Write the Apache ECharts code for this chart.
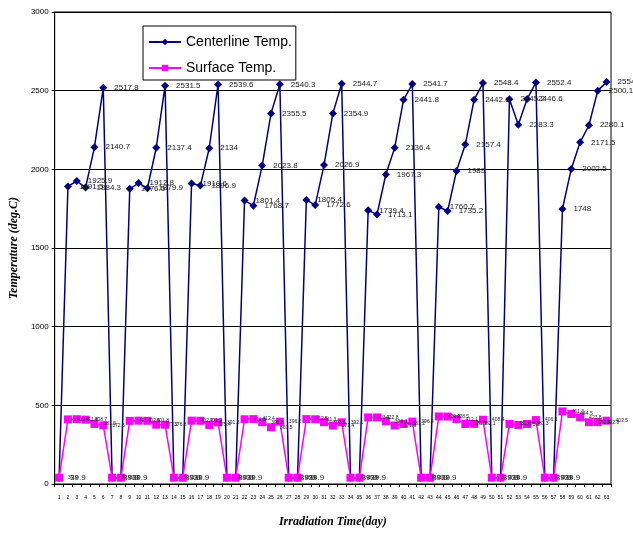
<!DOCTYPE html>
<html>
<head>
<meta charset="utf-8">
<script src="https://cdn.jsdelivr.net/npm/echarts@6/dist/echarts.min.js"></script>
<style>
  html, body { margin: 0; padding: 0; background: #fff; }
  #tempChart { width: 633px; height: 533px; }
</style>
</head>
<body>
<div id="tempChart"></div>
<script>
  // irradiation days
  const days = ['1','2','3','4','5','6','7','8','9','10','11','12','13','14','15','16','17','18','19','20','21',
    '22','23','24','25','26','27','28','29','30','31','32','33','34','35','36','37','38','39','40','41','42',
    '43','44','45','46','47','48','49','50','51','52','53','54','55','56','57','58','59','60','61','62','63']

  // centerline temperature (deg.C)
  const centerline = [39.9, 1891.5, 1925.9, 1884.3, 2140.7, 2517.8, 39.9,
    39.9, 1876.5, 1912.8, 1879.9, 2137.4, 2531.5, 39.9,
    39.9, 1910.6, 1896.9, 2134, 2539.6, 39.9, 39.9,
    1801.4, 1768.7, 2023.8, 2355.5, 2540.3, 39.9, 39.9,
    1805.4, 1772.6, 2026.9, 2354.9, 2544.7, 39.9, 39.9,
    1739.4, 1713.1, 1967.3, 2136.4, 2441.8, 2541.7, 39.9,
    39.9, 1760.7, 1735.2, 1989, 2157.4, 2442.6, 2548.4,
    39.9, 39.9, 2445.2, 2283.3, 2446.6, 2552.4, 39.9,
    39.9, 1748, 2002.5, 2171.5, 2280.1, 2500.1, 2554.5]

  // surface temperature (deg.C)
  const surface = [39.9, 410.6, 411.8, 408.7, 381.5, 372.5, 39.9,
    39.9, 401.2, 402.5, 401.8, 377.2, 376.8, 39.9,
    39.9, 402.7, 401.9, 375.4, 391.6, 39.9, 39.9,
    411.6, 412.4, 392.8, 360.5, 396.2, 39.9, 39.9,
    412.5, 411.3, 392.6, 371.4, 392.1, 39.9, 39.9,
    423.1, 422.8, 398.3, 371.6, 381.2, 396.4, 39.9,
    39.9, 429.2, 428.5, 412.1, 381.7, 382.1, 408.4,
    39.9, 39.9, 381.6, 375.2, 381.3, 406.1,
    39.9, 39.9, 461.3, 444.5, 423.8, 392.4, 392.8, 402.5]

  const chart = echarts.init(document.getElementById('tempChart'))

  chart.setOption({
    animation: false,
    textStyle: { fontFamily: 'Liberation Sans, Arial, sans-serif' },
    grid: {
      left: 53, right: 22, top: 12, bottom: 43,
      show: true, borderColor: '#000', borderWidth: 1
    },
    legend: {
      orient: 'vertical',
      left: 143, top: 26,
      backgroundColor: '#fff',
      borderColor: '#000', borderWidth: 1,
      padding: [9, 4, 5, 5],
      itemGap: 12,
      itemWidth: 32, itemHeight: 8,
      textStyle: { fontSize: 14, color: '#000' },
      data: ['Centerline Temp.', 'Surface Temp.']
    },
    xAxis: {
      type: 'category',
      data: days,
      boundaryGap: true,
      name: 'Irradiation Time(day)',
      nameLocation: 'middle',
      nameGap: 32,
      nameTextStyle: { fontFamily: 'Liberation Serif', fontStyle: 'italic', fontWeight: 'bold', fontSize: 12, color: '#000' },
      axisLine: { lineStyle: { color: '#000', width: 1 } },
      axisTick: { show: true, length: 3, lineStyle: { color: '#000' } },
      axisLabel: { interval: 0, fontSize: 5, color: '#000', margin: 11 }
    },
    yAxis: {
      type: 'value',
      min: 0, max: 3000, interval: 500,
      name: 'Temperature (deg.C)',
      nameLocation: 'middle',
      nameGap: 29,
      nameTextStyle: { fontFamily: 'Liberation Serif', fontStyle: 'italic', fontWeight: 'bold', fontSize: 12, color: '#000' },
      axisLine: { show: true, lineStyle: { color: '#000' } },
      axisTick: { show: true, length: 3, lineStyle: { color: '#000' } },
      axisLabel: { fontSize: 8, color: '#000', margin: 6, formatter: v => String(v) },
      splitLine: { lineStyle: { color: '#000', width: 1 } }
    },
    series: [
      {
        name: 'Centerline Temp.',
        type: 'line',
        data: centerline,
        symbol: 'diamond',
        symbolSize: 8,
        color: '#000080',
        lineStyle: { width: 1.5, color: '#000080' },
        itemStyle: { color: '#000080' },
        label: { show: true, position: 'right', distance: 7, fontSize: 8, color: '#222' },
        z: 2
      },
      {
        name: 'Surface Temp.',
        type: 'line',
        data: surface,
        symbol: 'rect',
        symbolSize: 8,
        color: '#ff00ff',
        lineStyle: { width: 1.5, color: '#ff00ff' },
        itemStyle: { color: '#ff00ff' },
        label: { show: true, position: 'right', distance: 5, fontSize: 5, color: '#222' },
        z: 3
      }
    ]
  })
</script>
</body>
</html>
